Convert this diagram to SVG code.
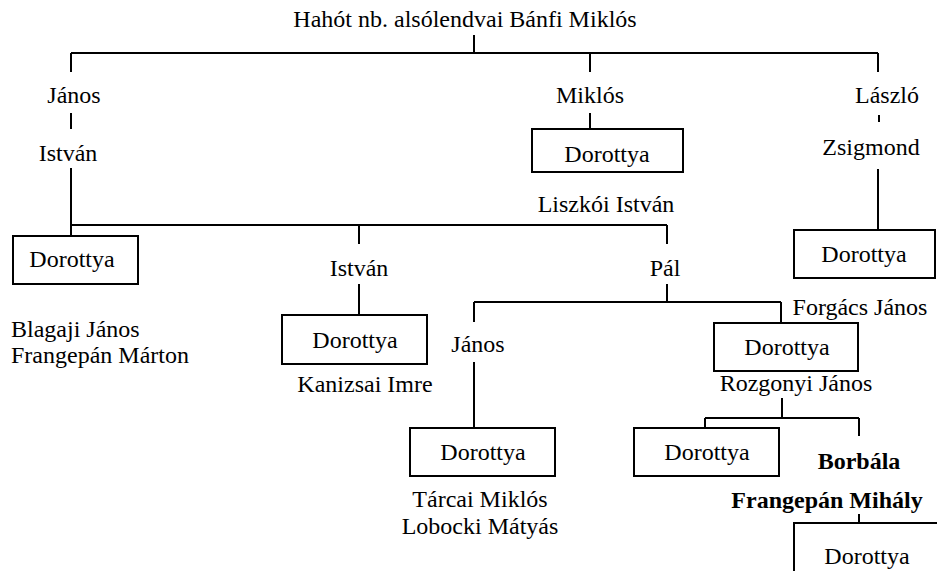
<svg xmlns="http://www.w3.org/2000/svg" width="937" height="571" viewBox="0 0 937 571">
<style>
text{font-family:"Liberation Serif","Times New Roman",serif;font-size:24px;fill:#000;text-anchor:middle}
.b{font-weight:bold}
.l{text-anchor:start}
rect{fill:#fff;stroke:#000;stroke-width:2}
#connectors path{fill:none;stroke:#000;stroke-width:2}
</style>
<rect x="0" y="0" width="937" height="571" style="stroke:none"/>
<g id="connectors">
<path d="M474 35V53M71 53H878M71 53V72M590 53V72M878 53V72"/>
<path d="M71 113V129M590 113V129M879 115V122M878 169V230"/>
<path d="M71 168V236M71 225H667M359 225V244M667 225V244"/>
<path d="M359 284V315M667 284V302M474 302H781M474 302V322M781 302V323"/>
<path d="M474 362V428M782 398V418M705 418H859M705 418V428M859 418V436M859 514V523"/>
</g>
<g id="root"><text x="465" y="27">Hahót nb. alsólendvai Bánfi Miklós</text></g>
<g id="janos1"><text x="74" y="103">János</text></g>
<g id="istvan1"><text x="68" y="161">István</text></g>
<g id="miklos"><text x="590" y="103">Miklós</text></g>
<g id="dorottya-miklos"><rect x="532" y="129" width="151" height="43"/><text x="607" y="162">Dorottya</text></g>
<g id="laszlo"><text x="887" y="103">László</text></g>
<g id="zsigmond"><text x="871" y="155">Zsigmond</text></g>
<g id="dorottya-zsigmond"><rect x="794" y="230" width="141" height="48"/><text x="864" y="262">Dorottya</text></g>
<g id="liszkoi"><text x="606" y="212">Liszkói István</text></g>
<g id="dorottya-istvan"><rect x="13" y="236" width="125" height="48"/><text x="72" y="267">Dorottya</text></g>
<g id="husbands-left"><text class="l" x="11" y="337">Blagaji János</text><text class="l" x="11" y="363">Frangepán Márton</text></g>
<g id="istvan2"><text x="359" y="276">István</text></g>
<g id="dorottya-istvan2"><rect x="282" y="315" width="145" height="49"/><text x="355" y="348">Dorottya</text></g>
<g id="kanizsai"><text x="365" y="392">Kanizsai Imre</text></g>
<g id="pal"><text x="665" y="276">Pál</text></g>
<g id="janos2"><text x="478" y="352">János</text></g>
<g id="dorottya-janos2"><rect x="410" y="428" width="145" height="48"/><text x="483" y="460">Dorottya</text></g>
<g id="husbands-janos2"><text x="480" y="507">Tárcai Miklós</text><text x="480" y="534">Lobocki Mátyás</text></g>
<g id="forgacs"><text x="860" y="315">Forgács János</text></g>
<g id="dorottya-pal"><rect x="714" y="323" width="144" height="48"/><text x="787" y="355">Dorottya</text></g>
<g id="rozgonyi"><text x="796" y="391">Rozgonyi János</text></g>
<g id="dorottya-rozgonyi"><rect x="634" y="428" width="145" height="48"/><text x="707" y="460">Dorottya</text></g>
<g id="borbala"><text class="b" x="859" y="469">Borbála</text></g>
<g id="frangepan-mihaly"><text class="b" x="827" y="508">Frangepán Mihály</text></g>
<g id="dorottya-borbala"><rect x="794" y="523" width="150" height="60"/><text x="867" y="564">Dorottya</text></g>
</svg>
